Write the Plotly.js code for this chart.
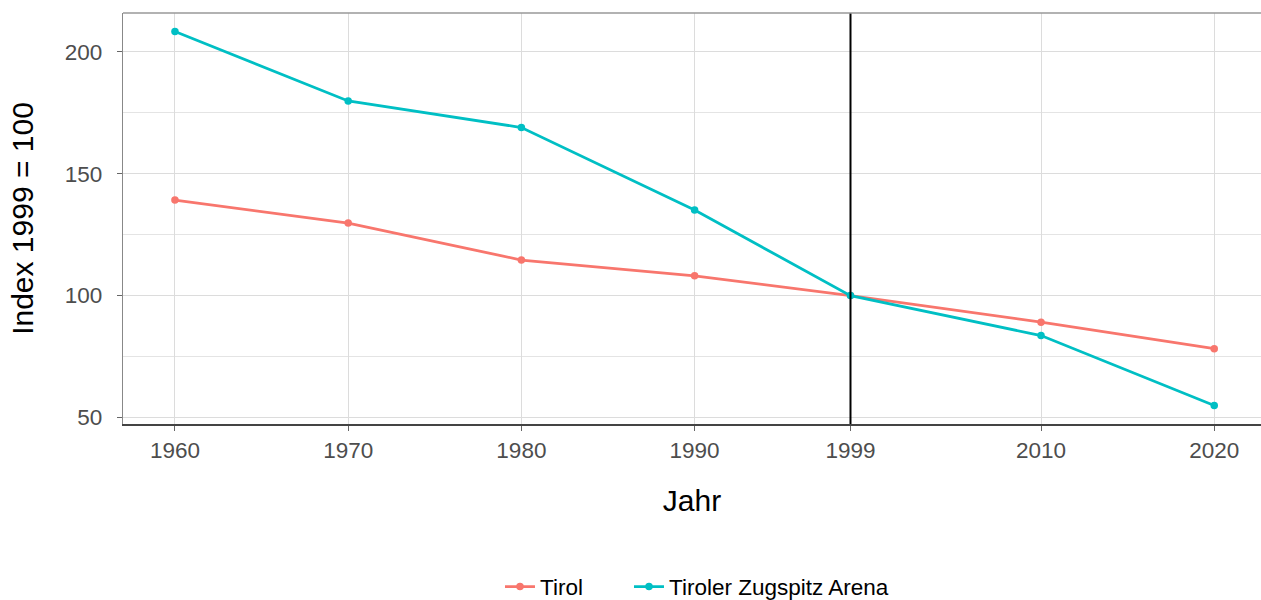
<!DOCTYPE html>
<html>
<head>
<meta charset="utf-8">
<script src="https://cdn.plot.ly/plotly-3.0.1.min.js"></script>
<style>html,body{margin:0;padding:0;background:#fff;overflow:hidden}#chart{width:1261px;height:600px}</style>
</head>
<body>
<div id="chart"></div>
<script>
var years = [1960, 1970, 1980, 1990, 1999, 2010, 2020];
var tirol = [139.2, 129.8, 114.6, 108.1, 100, 89.1, 78.2];
var zugspitz = [208.4, 179.9, 169.0, 135.1, 100, 83.6, 54.9];
var seriesNames = ["Tirol", "Tiroler Zugspitz Arena"];
var tickYears = [1960, 1970, 1980, 1990, 1999, 2010, 2020];
var refYear = 1999;

var font = "Liberation Sans, Arial, sans-serif";
var traces = [
  {x: years, y: tirol, name: seriesNames[0], type: "scatter", mode: "lines+markers", legend: "legend",
   line: {color: "#F8766D", width: 2.8}, marker: {color: "#F8766D", size: 7.5}},
  {x: years, y: zugspitz, name: seriesNames[1], type: "scatter", mode: "lines+markers", legend: "legend2",
   line: {color: "#00BFC4", width: 2.8}, marker: {color: "#00BFC4", size: 7.5}}
];
var legendFont = {size: 22.5, color: "#000", family: font};
var layout = {
  width: 1261, height: 600,
  margin: {l: 123, r: 0, t: 13, b: 176, autoexpand: false},
  paper_bgcolor: "#fff", plot_bgcolor: "#fff",
  font: {family: font, color: "#4d4d4d"},
  showlegend: true,
  legend: {orientation: "h", xref: "container", yref: "container",
           x: 0.3965, xanchor: "left", y: 0.0217, yanchor: "middle", font: legendFont},
  legend2: {orientation: "h", xref: "container", yref: "container",
           x: 0.4988, xanchor: "left", y: 0.0217, yanchor: "middle", font: legendFont},
  xaxis: {
    range: [1957, 2022.7], tickvals: tickYears, ticktext: tickYears.map(String),
    showgrid: true, gridcolor: "#dcdcdc", gridwidth: 1, zeroline: false,
    ticks: "outside", ticklen: 5, tickcolor: "#666", tickwidth: 1,
    tickfont: {size: 22.5, color: "#4d4d4d", family: font},
    ticklabelstandoff: 0,
    showline: true, linecolor: "#444", linewidth: 1.6,
    title: {text: "Jahr", font: {size: 30, color: "#000", family: font}, standoff: 28}
  },
  yaxis: {
    range: [47.3, 216], tick0: 50, dtick: 50,
    showgrid: true, gridcolor: "#dcdcdc", gridwidth: 1, zeroline: false,
    minor: {dtick: 25, tick0: 50, showgrid: true, gridcolor: "#e4e4e4", gridwidth: 1, ticks: ""},
    ticks: "outside", ticklen: 5, tickcolor: "#666", tickwidth: 1,
    tickfont: {size: 22.5, color: "#4d4d4d", family: font},
    ticklabelstandoff: 10,
    showline: true, linecolor: "#888", linewidth: 1.3,
    title: {text: "Index 1999 = 100", font: {size: 30, color: "#000", family: font}, standoff: 22}
  },
  shapes: [
    {type: "line", xref: "x", yref: "paper", x0: refYear, x1: refYear, y0: 0, y1: 1,
     line: {color: "#000", width: 2}, layer: "above"},
    {type: "line", xref: "paper", yref: "paper", x0: 0, x1: 1, y0: 1, y1: 1,
     line: {color: "#999", width: 1.3}}
  ]
};
Plotly.newPlot("chart", traces, layout, {displayModeBar: false, staticPlot: true});
</script>
</body>
</html>
